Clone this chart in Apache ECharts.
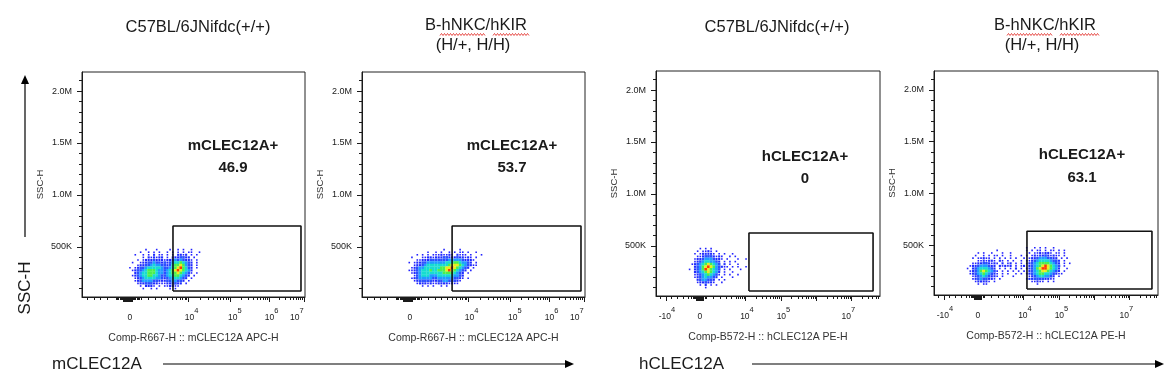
<!DOCTYPE html>
<html><head><meta charset="utf-8">
<script src="https://cdn.jsdelivr.net/npm/echarts@6/dist/echarts.min.js"></script>
<style>html,body{margin:0;padding:0;background:#fff}#c{width:1174px;height:381px}</style>
</head><body><div id="c"></div>
<script>
// ================= DATA =================
const panelTitles = [['C57BL/6JNifdc(+/+)'], ['B-hNKC/hKIR', '(H/+, H/H)'], ['C57BL/6JNifdc(+/+)'], ['B-hNKC/hKIR', '(H/+, H/H)']];
const gateNames = ['mCLEC12A+', 'mCLEC12A+', 'hCLEC12A+', 'hCLEC12A+'];
const gatePct = ['46.9', '53.7', '0', '63.1'];
const xAxisNames = ['Comp-R667-H :: mCLEC12A APC-H', 'Comp-R667-H :: mCLEC12A APC-H', 'Comp-B572-H :: hCLEC12A PE-H', 'Comp-B572-H :: hCLEC12A PE-H'];
const yAxisName = 'SSC-H';
const markerNames = ['mCLEC12A', 'hCLEC12A'];
// gates in display-channel (x, 0..1000) and SSC-H (y)
const gateX = [[408, 982], [404, 982], [415, 969], [415, 973]];
const gateY = [[77000, 702000], [77000, 702000], [67000, 625000], [77000, 635000]];
// y axis ticks
const yMajorTicks = [500000, 1000000, 1500000, 2000000];
const yMajorLabels = ['500K', '1.0M', '1.5M', '2.0M'];
const yMinorTicks = [100000, 200000, 300000, 400000, 600000, 700000, 800000, 900000, 1100000, 1200000, 1300000, 1400000, 1600000, 1700000, 1800000, 1900000, 2100000];
// x axis (biexponential display channel 0..1000)
const xLabelPosA = [215, 491, 685, 850, 963];
const xLabelBaseA = ['0', '10', '10', '10', '10'];
const xLabelExpA = ['', '4', '5', '6', '7'];
const xDecadesA = [475, 663, 838, 996];
const xMinorA = [24, 54, 84, 113, 152, 158, 164, 170, 176, 182, 228, 234, 240, 246, 252, 258, 264, 297, 327, 357, 382, 406, 424, 439, 451, 461, 469];
const xZeroBlockA = [185, 225];
const xLabelPosB = [49, 196, 406, 569, 859];
const xLabelBaseB = ['-10', '0', '10', '10', '10'];
const xLabelExpB = ['4', '', '4', '5', '7'];
const xDecadesB = [397, 558, 717, 873, 1029];
const xNegMajorB = [45];
const xMinorB = [18, 70, 95, 122, 144, 159, 165, 171, 177, 218, 224, 256, 286, 312, 338, 357, 369, 378, 387, 393];
const xZeroBlockB = [180, 215];
// density clouds: each char = event density level in a (12 ch x 25K) bin; rows from top SSC value downward
const cloudX0 = [215, 200, 150, 150];
const cloudTop = [475000, 475000, 475000, 475000];
const cloud1 = [
"......1...1....1..1.1..1....",
"....1..1.1.1..1.1.1.1.11..1.",
"..1..1.1.2.11.1.1.2212.1.1..",
".....1.212122.1.2223322.1...",
"...1.1222322212234343221.1..",
".1..12233433232345565432.1..",
"...122334544332356676432.1..",
"1.1233455555433456786532.1..",
".12334566654434567876542....",
"..2345566654434566765431.1..",
".1234556655433455665432.1...",
"..12345555443234455432.1....",
"..1234444332223344332.1.....",
"...12233322111223322.1......",
"....1.2221.1.112211.........",
".....1..1.1....1.1.........."];
const cloud2 = [
"..............1.....1........",
"........1..1.1..1.1.11.1..1..",
"....1.1.1.11121121.2111.1...1",
"..1...1122122233222322121.1..",
"....1122233333334444432221...",
".1.1223344444445556654432.1..",
"...122345555555567776543211..",
"..1234455555566778765432.1...",
".1123455565566678765432.1....",
"..12345555555566665432.1.....",
"...1345554445555554432.......",
"..12344444334444443321.1.....",
"...123333322334433321........",
"....1222121122221211.........",
"......1.1.1..1.1............."];
const cloud3 = [
"....1.1.1.............",
"...1.1121.1...........",
"..1.122221.1.1..1.....",
"...1123332121..1.1....",
"..12234443221.1...1..1",
"..1234554432.1.1.1....",
".12345676543.2.1..1...",
"..2346787643211.1.1..1",
"1.2346876543.1.1...1..",
"..2345676542.1..1.....",
"..1234565431.1.1..1...",
"..123454432.1...1.....",
"...2344332.1.1........",
"...1223221..1.........",
"....1.2.1.1...........",
"......1..............."];
const cloud4 = [
"......................1..1.1.1..1.......",
"...........1..........1.1.11.1.11.1.1...",
"....1.1..1...1..1......1.1121221.11.1...",
"...1..1.1.11.1..1...1.1.12122321211.1...",
"..1.11211.1.1.1.1.1..1.12234443322.1.1..",
"....1121221.21.1.1..1.1123455554332.1...",
"..1122332121.2.12.1.1.1234566665432.1.1.",
".1223444322.21212.1.12.234567876543.1...",
"1.234555432.1.1.1.2.1.1234678876542..1..",
".12346765431.1.1.1.1.1.234567765432.1...",
".12345654321.1.1..1.1.12345665543211....",
"..1234543221.1...1.....1234554432.1.....",
"..123433221.1.........12233332211.......",
"...122221.1.............11211.1.1.......",
"....1.11..................1............."];
const clouds = [cloud1, cloud2, cloud3, cloud4];
const CELL_X = 12, CELL_Y = 25000;

// ================= STYLE / LAYOUT =================
const FONT = 'Liberation Sans, Arial, sans-serif';
const INK = '#1a1a1a';
const palette = [null, '#2222ff', '#1f2cff', '#2a50ff', '#1f9cff', '#17dcd0', '#4cf04c', '#ecec1c', '#ff3a00'];
const dotSize = [0, 1.6, 2.1, 2.6, 2.8, 2.8, 2.8, 2.8, 2.8];
const grids = [
  {left: 82, top: 72, width: 223, height: 225},
  {left: 362, top: 72, width: 223, height: 225},
  {left: 656, top: 71, width: 224, height: 225},
  {left: 934, top: 71, width: 224, height: 224}
];
const Y_MIN = 19000, Y_MAX = 2183000;

function logMinors(decades) {
  const out = [];
  for (let i = 0; i < decades.length - 1; i++) {
    const a = decades[i], b = decades[i + 1];
    for (let k = 2; k <= 9; k++) {
      const v = a + (b - a) * Math.log10(k);
      if (v < 998) out.push(v);
    }
  }
  return out;
}
function block(range, step) {
  const out = [];
  for (let v = range[0]; v <= range[1]; v += step) out.push(v);
  return out;
}
const axisSpec = {
  A: {labelPos: xLabelPosA, base: xLabelBaseA, exp: xLabelExpA,
      major: xDecadesA.concat(block(xZeroBlockA, 3)),
      minor: xMinorA.concat(logMinors(xDecadesA))},
  B: {labelPos: xLabelPosB, base: xLabelBaseB, exp: xLabelExpB,
      major: xNegMajorB.concat(xDecadesB.filter(v => v <= 1000)).concat(block(xZeroBlockB, 3)),
      minor: xMinorB.concat(logMinors(xDecadesB))}
};
const panelAxis = ['A', 'A', 'B', 'B'];

function cloudData(rows, x0, top) {
  const out = [];
  rows.forEach((row, r) => {
    for (let c = 0; c < row.length; c++) {
      const ch = row[c];
      if (ch >= '1' && ch <= '8') out.push([x0 + c * CELL_X, top - r * CELL_Y, +ch]);
    }
  });
  return out;
}

const xAxes = [], yAxes = [], series = [];
grids.forEach((g, i) => {
  const spec = axisSpec[panelAxis[i]];
  xAxes.push({
    gridIndex: i, type: 'value', min: 0, max: 1000, position: 'bottom',
    axisLine: {show: true, onZero: false, lineStyle: {color: INK, width: 1}},
    splitLine: {show: false},
    axisTick: {show: true, length: 5, customValues: spec.major, lineStyle: {color: INK, width: 1}},
    axisLabel: {
      show: true, customValues: spec.labelPos, margin: 10,
      formatter: (v) => {
        let idx = 0, best = 1e9;
        spec.labelPos.forEach((p, j) => { if (Math.abs(p - v) < best) { best = Math.abs(p - v); idx = j; } });
        const e = spec.exp[idx];
        return e ? '{b|' + spec.base[idx] + '}{s|' + e + '}' : '{b|' + spec.base[idx] + '}';
      },
      rich: {
        b: {fontSize: 8.5, fontFamily: FONT, color: INK, verticalAlign: 'bottom', lineHeight: 15},
        s: {fontSize: 7.5, fontFamily: FONT, color: INK, verticalAlign: 'top', lineHeight: 15}
      }
    },
    name: xAxisNames[i], nameLocation: 'middle', nameGap: 36,
    nameTextStyle: {fontSize: 10.5, fontFamily: FONT, color: '#333'}
  });
  xAxes.push({
    gridIndex: i, type: 'value', min: 0, max: 1000, position: 'bottom',
    axisLine: {show: false}, splitLine: {show: false}, axisLabel: {show: false},
    axisTick: {show: true, length: 3, customValues: spec.minor, lineStyle: {color: INK, width: 1}}
  });
  yAxes.push({
    gridIndex: i, type: 'value', min: Y_MIN, max: Y_MAX, position: 'left',
    axisLine: {show: true, onZero: false, lineStyle: {color: INK, width: 1}},
    splitLine: {show: false},
    axisTick: {show: true, length: 5, customValues: yMajorTicks, lineStyle: {color: INK, width: 1}},
    axisLabel: {
      show: true, customValues: yMajorTicks, margin: 10, fontSize: 9, fontFamily: FONT, color: INK,
      padding: [6, 0, 0, 0],
      formatter: (v) => yMajorLabels[yMajorTicks.indexOf(v)] || ''
    },
    name: yAxisName, nameLocation: 'middle', nameGap: 37, nameRotate: 90,
    nameTextStyle: {fontSize: 9.5, fontFamily: FONT, color: '#333'}
  });
  yAxes.push({
    gridIndex: i, type: 'value', min: Y_MIN, max: Y_MAX, position: 'left',
    axisLine: {show: false}, splitLine: {show: false}, axisLabel: {show: false},
    axisTick: {show: true, length: 3, customValues: yMinorTicks, lineStyle: {color: INK, width: 1}}
  });
  series.push({
    type: 'scatter', xAxisIndex: 2 * i, yAxisIndex: 2 * i, symbol: 'rect',
    data: cloudData(clouds[i], cloudX0[i], cloudTop[i]),
    symbolSize: (val) => [dotSize[val[2]], dotSize[val[2]]],
    itemStyle: {color: (p) => palette[p.value[2]], opacity: 1},
    emphasis: {disabled: true}, silent: true, z: 2
  });
  const gx = gateX[i], gy = gateY[i];
  series.push({
    type: 'line', xAxisIndex: 2 * i, yAxisIndex: 2 * i, symbol: 'none', silent: true, z: 5,
    data: [[gx[0], gy[0]], [gx[1], gy[0]], [gx[1], gy[1]], [gx[0], gy[1]], [gx[0], gy[0]]],
    lineStyle: {color: '#111', width: 1.6}
  });
});

// ============ annotations ============
const titlePos = [[[198, 27]], [[476, 25], [473, 45]], [[777, 27]], [[1045, 25], [1042, 45]]];
const gateLabelPos = [[233, 146, 168], [512, 146, 168], [805, 157, 179], [1082, 155, 178]];
const wavy = [[440, 486], [493, 530], [1007, 1053], [1060, 1099]];
const graphics = [];
function txt(x, y, text, font, align, extra) {
  return Object.assign({type: 'text', x: x, y: y, silent: true,
    style: {text: text, x: 0, y: 0, font: font, fill: INK, align: align || 'center', verticalAlign: 'middle',
      textAlign: align || 'center', textVerticalAlign: 'middle'}}, extra || {});
}
panelTitles.forEach((lines, i) => {
  lines.forEach((t, j) => graphics.push(txt(titlePos[i][j][0], titlePos[i][j][1], t, '16.5px ' + FONT)));
});
gateNames.forEach((n, i) => {
  const p = gateLabelPos[i];
  graphics.push(txt(p[0], p[1], n, 'bold 15px ' + FONT));
  graphics.push(txt(p[0], p[2], gatePct[i], 'bold 15px ' + FONT));
});
wavy.forEach(w => {
  const pts = [];
  for (let x = w[0], k = 0; x <= w[1]; x += 1.5, k++) pts.push([x, 34.5 + (k % 2 ? -1 : 1)]);
  graphics.push({type: 'polyline', silent: true, shape: {points: pts}, style: {stroke: '#e0201a', lineWidth: 0.8, fill: null}});
});
// big axis arrows
graphics.push({type: 'line', silent: true, shape: {x1: 25, y1: 237, x2: 25, y2: 82}, style: {stroke: '#000', lineWidth: 1.2}});
graphics.push({type: 'polygon', silent: true, shape: {points: [[25, 75], [21, 84], [29, 84]]}, style: {fill: '#000'}});
graphics.push(txt(25, 288, yAxisName, '17px ' + FONT, 'center', {rotation: Math.PI / 2}));
graphics.push(txt(52, 364, markerNames[0], '17px ' + FONT, 'left'));
graphics.push({type: 'line', silent: true, shape: {x1: 163, y1: 364, x2: 567, y2: 364}, style: {stroke: '#000', lineWidth: 1.2}});
graphics.push({type: 'polygon', silent: true, shape: {points: [[574, 364], [565, 360], [565, 368]]}, style: {fill: '#000'}});
graphics.push(txt(639, 364, markerNames[1], '17px ' + FONT, 'left'));
graphics.push({type: 'line', silent: true, shape: {x1: 752, y1: 364, x2: 1157, y2: 364}, style: {stroke: '#000', lineWidth: 1.2}});
graphics.push({type: 'polygon', silent: true, shape: {points: [[1164, 364], [1155, 360], [1155, 368]]}, style: {fill: '#000'}});

const chart = echarts.init(document.getElementById('c'), null, {renderer: 'canvas'});
chart.setOption({
  animation: false,
  backgroundColor: '#fff',
  grid: grids.map(g => Object.assign({show: true, borderColor: '#222', borderWidth: 1, backgroundColor: 'transparent', containLabel: false}, g)),
  xAxis: xAxes,
  yAxis: yAxes,
  series: series,
  graphic: {elements: graphics}
});
</script></body></html>
